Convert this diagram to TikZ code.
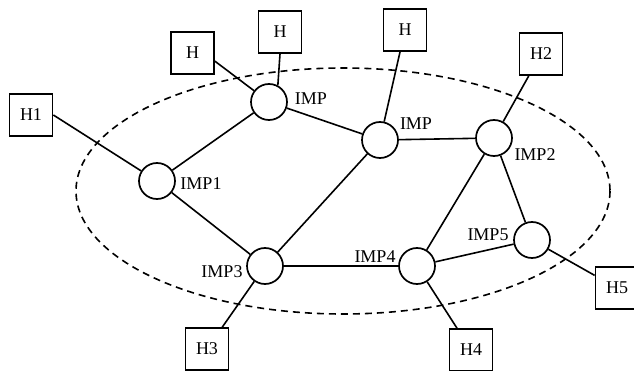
\documentclass[tikz,border=0pt]{standalone}
\usepackage{fontspec}
\setmainfont{Liberation Serif}
\begin{document}
\begin{tikzpicture}[x=1pt,y=-1pt,
  link/.style={line width=1.6pt},
  imp/.style={circle,draw,line width=1.7pt,minimum size=36pt,inner sep=0pt},
  host/.style={rectangle,draw,line width=1.7pt,minimum width=43pt,minimum height=42pt,inner sep=0pt,font=\fontsize{18}{20}\selectfont},
  lbl/.style={inner sep=0pt,font=\fontsize{18}{20}\selectfont}]
\useasboundingbox (0,0) rectangle (634,371);

% subnet boundary
\draw[line width=1.6pt,dash pattern=on 7pt off 5pt] (343,191) ellipse [x radius=267, y radius=123];

% IMP routers
\node[imp] (ia) at (269,102) {};
\node[imp] (ib) at (380,140) {};
\node[imp] (i2) at (494,138) {};
\node[imp] (i1) at (157,181) {};
\node[imp] (i3) at (265,266) {};
\node[imp] (i4) at (417,266) {};
\node[imp] (i5) at (532,240) {};

% router labels
\node[lbl] (la) at (311,99) {IMP};
\node[lbl] (lb) at (416,124) {IMP};
\node[lbl] (l2) at (535,155) {IMP2};
\node[lbl] (l1) at (201,184) {IMP1};
\node[lbl] (l3) at (222,272) {IMP3};
\node[lbl] (l4) at (375,257) {IMP4};
\node[lbl] (l5) at (488,235) {IMP5};

% hosts
\node[host] (h1) at (31,115) {H1};
\node[host] (hl) at (192.5,53) {H};
\node[host] (hm) at (280,32) {H};
\node[host] (ht) at (405,30) {H};
\node[host] (h2) at (541,54) {H2};
\node[host] (h3) at (207,349) {H3};
\node[host] (h4) at (471,350) {H4};
\node[host] (h5) at (617,288) {H5};

% router-to-router links
\draw[link] (i1) -- (ia);
\draw[link] (ia) -- (ib);
\draw[link] (ib) -- (i2);
\draw[link] (ib) -- (i3);
\draw[link] (i1) -- (i3);
\draw[link] (i3) -- (i4);
\draw[link] (i4) -- (i2);
\draw[link] (i4) -- (i5);
\draw[link] (i2) -- (i5);

% host-to-router links
\draw[link] (h1.east) -- (i1);
\draw[link] (hl.-20) -- (ia);
\draw[link] (hm.south) -- (ia.62);
\draw[link] (ht) -- (ib);
\draw[link] (h2) -- (i2);
\draw[link] (h3) -- (i3);
\draw[link] (h4) -- (i4);
\draw[link] (h5) -- (i5);
\end{tikzpicture}
\end{document}
